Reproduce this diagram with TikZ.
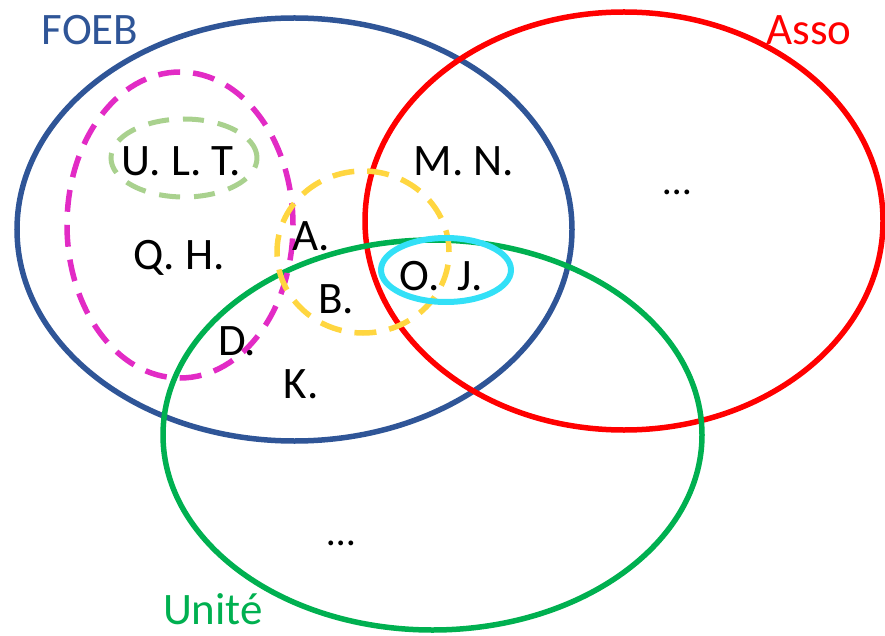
\documentclass[tikz,border=0pt]{standalone}
\usepackage{fontspec}
\setmainfont{Carlito}
\definecolor{foebblue}{HTML}{2F5597}
\definecolor{assored}{HTML}{FF0000}
\definecolor{unitegreen}{HTML}{00B050}
\definecolor{dmagenta}{HTML}{E22BC5}
\definecolor{dlgreen}{HTML}{A9D18E}
\definecolor{dyellow}{HTML}{FFD640}
\definecolor{dcyan}{HTML}{33E0F7}
\begin{document}
\begin{tikzpicture}[x=1pt,y=-1pt,
  setline/.style={line width=5.5pt},
  dashset/.style={line width=5.5pt, dash pattern=on 22pt off 13pt},
  lbl/.style={anchor=base, inner sep=0pt, font=\fontsize{45}{50}\selectfont},
  dots/.style={anchor=base, inner sep=0pt, font=\fontsize{40}{48}\selectfont}]
\useasboundingbox (0,0) rectangle (885,636);
% main sets
\draw[setline, foebblue] (294.5,229.5) ellipse [x radius=277.5pt, y radius=211.5pt];
\draw[setline, assored] (624,221) ellipse [x radius=259pt, y radius=209pt];
\draw[setline, unitegreen] (432.5,435) ellipse [x radius=269.5pt, y radius=195pt];
% subgroups
\draw[dashset, dmagenta] (180,225) ellipse [x radius=113pt, y radius=153pt];
\draw[dashset, dlgreen, line width=5pt, dash pattern=on 21pt off 14pt] (184,158) ellipse [x radius=73pt, y radius=39pt];
\draw[dashset, dyellow] (363,252) ellipse [x radius=86pt, y radius=81pt];
\draw[setline, dcyan, line width=6pt] (446,270) ellipse [x radius=65pt, y radius=32pt];
% titles
\node[lbl, text=foebblue] (foeb) at (90,45) {FOEB};
\node[lbl, text=assored] (asso) at (809,45) {Asso};
\node[lbl, text=unitegreen] (unite) at (213,624) {Unité};
% members
\node[lbl] (ult) at (181,176) {U. L. T.};
\node[lbl] (qh) at (179,269) {Q. H.};
\node[lbl] (mn) at (464,176) {M. N.};
\node[dots] (dotsa) at (677,195) {…};
\node[lbl] (a) at (311,250) {A.};
\node[lbl] (oj) at (441,290) {O. \,J.};
\node[lbl] (b) at (336,313) {B.};
\node[lbl] (d) at (237,355) {D.};
\node[lbl] (k) at (301,398) {K.};
\node[dots] (dotsb) at (341,545) {…};
\end{tikzpicture}
\end{document}
